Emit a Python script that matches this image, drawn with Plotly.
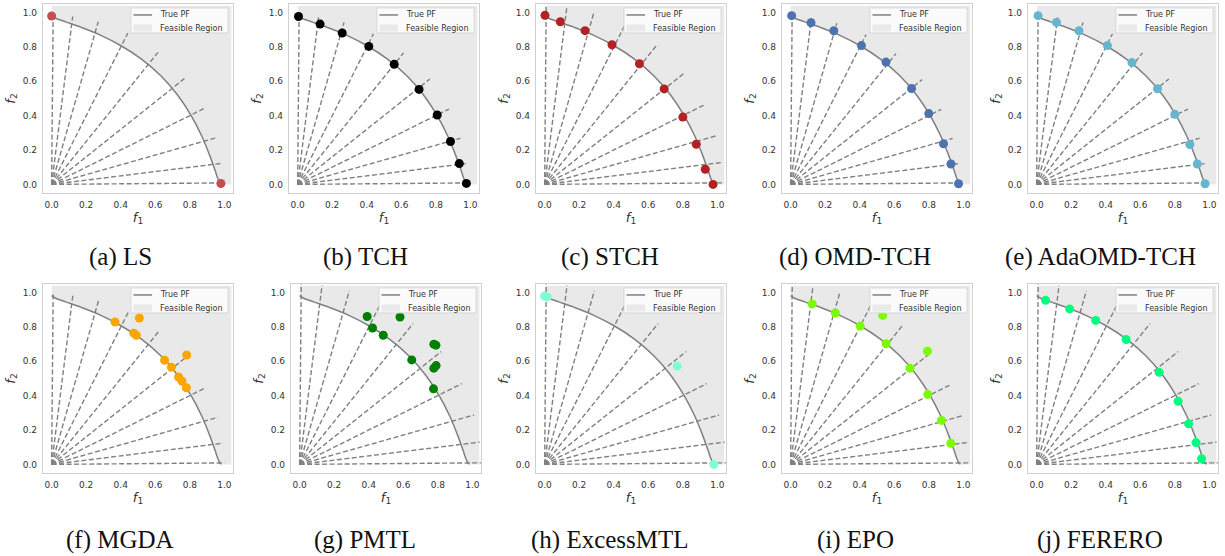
import math
import plotly.graph_objects as go

# ---------------- data ----------------
# True Pareto front
PF_F1 = [0.0, 0.023, 0.082, 0.172, 0.282, 0.402, 0.522, 0.632, 0.728, 0.807, 0.869, 0.914, 0.946, 0.967, 0.982]
PF_F2 = [0.982, 0.967, 0.946, 0.914, 0.869, 0.807, 0.728, 0.632, 0.522, 0.402, 0.282, 0.172, 0.082, 0.023, 0.0]
FEASIBLE_MAX = 1.04

# preference ray directions (degrees) and per-panel ray lengths
RAY_ANGLES = [0.5, 7.1, 15.9, 26.6, 38.7, 51.3, 63.4, 74.1, 82.9, 89.5]
RAY_LENGTHS = [0.985, 0.98, 1.04, 0.975, 0.98, 1.0, 1.05, 1.05, 1.04, 1.05]

METHODS = ["LS", "TCH", "STCH", "OMD-TCH", "AdaOMD-TCH",
           "MGDA", "PMTL", "ExcessMTL", "EPO", "FERERO"]
LETTERS = ["a", "b", "c", "d", "e", "f", "g", "h", "i", "j"]

LS_F1 = [0.0, 0.98]
LS_F2 = [0.98, 0.005]

TCH_F1 = [0.005, 0.130, 0.258, 0.412, 0.559, 0.703, 0.808, 0.885, 0.936, 0.977]
TCH_F2 = [0.977, 0.933, 0.881, 0.803, 0.699, 0.553, 0.404, 0.250, 0.121, 0.006]

STCH_F1 = [0.002, 0.091, 0.234, 0.390, 0.549, 0.692, 0.800, 0.878, 0.930, 0.975]
STCH_F2 = [0.984, 0.947, 0.895, 0.813, 0.702, 0.556, 0.392, 0.234, 0.088, 0.0]

OMD_F1 = [0.006, 0.118, 0.250, 0.410, 0.552, 0.700, 0.800, 0.885, 0.928, 0.972]
OMD_F2 = [0.982, 0.941, 0.894, 0.808, 0.712, 0.558, 0.412, 0.236, 0.119, 0.004]

ADA_F1 = [0.008, 0.115, 0.245, 0.410, 0.552, 0.700, 0.800, 0.887, 0.930, 0.975]
ADA_F2 = [0.982, 0.943, 0.894, 0.808, 0.709, 0.557, 0.408, 0.232, 0.119, 0.004]

MGDA_F1 = [0.367, 0.508, 0.475, 0.490, 0.654, 0.693, 0.782, 0.735, 0.755, 0.780]
MGDA_F2 = [0.829, 0.852, 0.764, 0.752, 0.606, 0.565, 0.637, 0.509, 0.484, 0.446]

PMTL_F1 = [0.391, 0.581, 0.422, 0.484, 0.649, 0.777, 0.789, 0.777, 0.790, 0.775]
PMTL_F2 = [0.861, 0.858, 0.794, 0.752, 0.608, 0.700, 0.694, 0.560, 0.575, 0.440]

EXCESS_F1 = [0.0, 0.015, 0.768, 0.98]
EXCESS_F2 = [0.98, 0.975, 0.573, 0.0]

EPO_F1 = [0.125, 0.259, 0.403, 0.533, 0.553, 0.691, 0.792, 0.794, 0.873, 0.927]
EPO_F2 = [0.934, 0.881, 0.805, 0.867, 0.702, 0.560, 0.659, 0.408, 0.256, 0.123]

FERERO_F1 = [0.052, 0.191, 0.342, 0.518, 0.709, 0.819, 0.880, 0.923, 0.955]
FERERO_F2 = [0.955, 0.905, 0.838, 0.727, 0.536, 0.367, 0.236, 0.127, 0.033]

TICK_VALUES = [0.0, 0.2, 0.4, 0.6, 0.8, 1.0]
TICK_LABELS = ["0.0", "0.2", "0.4", "0.6", "0.8", "1.0"]
LEGEND_LABELS = ["True PF", "Feasible Region"]

# ---------------- styles ----------------
COLORS = ["#c44e52", "#000000", "#b22222", "#4c72b0", "#64b5cd",
          "#ffa500", "#008000", "#7fffd4", "#7cfc00", "#00ff7f"]
SERIES = [(LS_F1, LS_F2), (TCH_F1, TCH_F2), (STCH_F1, STCH_F2), (OMD_F1, OMD_F2),
          (ADA_F1, ADA_F2), (MGDA_F1, MGDA_F2), (PMTL_F1, PMTL_F2),
          (EXCESS_F1, EXCESS_F2), (EPO_F1, EPO_F2), (FERERO_F1, FERERO_F2)]

W, H = 1225, 556
FRAME_LEFT = [43, 289, 536, 782, 1028, 43, 291, 536, 782, 1028]
FRAME_W = 190
FRAME_TOP = [4, 4, 4, 4, 4, 284, 284, 284, 284, 284]
FRAME_H = 189
CAPTION_Y = [257, 540]

GRAY = "#808080"
FILL = "#e9e9e9"
TEXT = "#333333"

fig = go.Figure()
shapes = []
annotations = []

for i in range(10):
    sfx = "" if i == 0 else str(i + 1)
    xa, ya = "x" + sfx, "y" + sfx
    f1, f2 = SERIES[i]

    # feasible region
    fx = [0.0] + PF_F1 + [FEASIBLE_MAX, FEASIBLE_MAX]
    fy = [FEASIBLE_MAX] + PF_F2 + [0.0, FEASIBLE_MAX]
    fig.add_trace(go.Scatter(x=fx, y=fy, mode="lines", fill="toself", fillcolor=FILL,
                             line=dict(width=0), hoverinfo="skip", showlegend=False,
                             xaxis=xa, yaxis=ya))
    # preference rays
    for ang in RAY_ANGLES:
        L = RAY_LENGTHS[i]
        a = math.radians(ang)
        fig.add_trace(go.Scatter(x=[0.0, L * math.cos(a)], y=[0.0, L * math.sin(a)],
                                 mode="lines", line=dict(color=GRAY, width=1.4, dash="5px,2.5px"),
                                 hoverinfo="skip", showlegend=False, xaxis=xa, yaxis=ya))
    # true PF
    fig.add_trace(go.Scatter(x=PF_F1, y=PF_F2, mode="lines",
                             line=dict(color=GRAY, width=1.5, shape="spline"),
                             hoverinfo="skip", showlegend=False, xaxis=xa, yaxis=ya))
    # solutions
    fig.add_trace(go.Scatter(x=f1, y=f2, mode="markers",
                             marker=dict(color=COLORS[i], size=9, line=dict(width=0)),
                             name=METHODS[i], showlegend=False, xaxis=xa, yaxis=ya))

    x0 = FRAME_LEFT[i] / W
    x1 = (FRAME_LEFT[i] + FRAME_W) / W
    y1 = 1 - FRAME_TOP[i] / H
    y0 = 1 - (FRAME_TOP[i] + FRAME_H) / H

    axis_common = dict(range=[-0.05, 1.05], tickvals=TICK_VALUES, ticktext=TICK_LABELS,
                       showgrid=False, zeroline=False, showline=True, mirror=True,
                       linecolor="#d0d0d0", linewidth=1.2, ticks="outside", ticklen=3,
                       tickcolor="rgba(0,0,0,0)", automargin=False,
                       tickfont=dict(family="DejaVu Sans", size=9, color=TEXT))
    fig.update_layout(**{
        ("xaxis" + sfx): dict(axis_common, domain=[x0, x1], anchor=ya,
                              title=dict(text="<i>f</i><sub>1</sub>", standoff=3,
                                         font=dict(family="DejaVu Sans", size=13, color=TEXT))),
        ("yaxis" + sfx): dict(axis_common, domain=[y0, y1], anchor=xa,
                              title=dict(text="<i>f</i><sub>2</sub>", standoff=4,
                                         font=dict(family="DejaVu Sans", size=13, color=TEXT))),
    })

    xr, yr = xa + " domain", ya + " domain"
    # legend box (drawn manually)
    shapes.append(dict(type="rect", xref=xr, yref=yr, x0=0.463, x1=0.974, y0=0.847, y1=0.979,
                       fillcolor="rgba(255,255,255,0.8)", line=dict(color="#d8d8d8", width=1),
                       layer="above"))
    shapes.append(dict(type="line", xref=xr, yref=yr, x0=0.476, x1=0.574, y0=0.942, y1=0.942,
                       line=dict(color=GRAY, width=1.5), layer="above"))
    shapes.append(dict(type="rect", xref=xr, yref=yr, x0=0.476, x1=0.574, y0=0.855, y1=0.892,
                       fillcolor=FILL, line=dict(width=0), layer="above"))
    annotations.append(dict(xref=xr, yref=yr, x=0.605, y=0.942, text=LEGEND_LABELS[0],
                            showarrow=False, xanchor="left", yanchor="middle",
                            font=dict(family="DejaVu Sans", size=8, color=TEXT)))
    annotations.append(dict(xref=xr, yref=yr, x=0.605, y=0.873, text=LEGEND_LABELS[1],
                            showarrow=False, xanchor="left", yanchor="middle",
                            font=dict(family="DejaVu Sans", size=8, color=TEXT)))
    # caption
    col = i % 5
    row = i // 5
    annotations.append(dict(xref="paper", yref="paper", x=(120 + 245 * col) / W,
                            y=1 - CAPTION_Y[row] / H,
                            text="(%s) %s" % (LETTERS[i], METHODS[i]), showarrow=False,
                            xanchor="center", yanchor="middle",
                            font=dict(family="Liberation Serif", size=25, color="#111111")))

fig.update_layout(width=W, height=H, margin=dict(l=0, r=0, t=0, b=0),
                  paper_bgcolor="white", plot_bgcolor="white",
                  shapes=shapes, annotations=annotations, showlegend=False)

fig.write_html("out.html", config={"displayModeBar": False},
               post_script="document.body.style.margin='0px';")
